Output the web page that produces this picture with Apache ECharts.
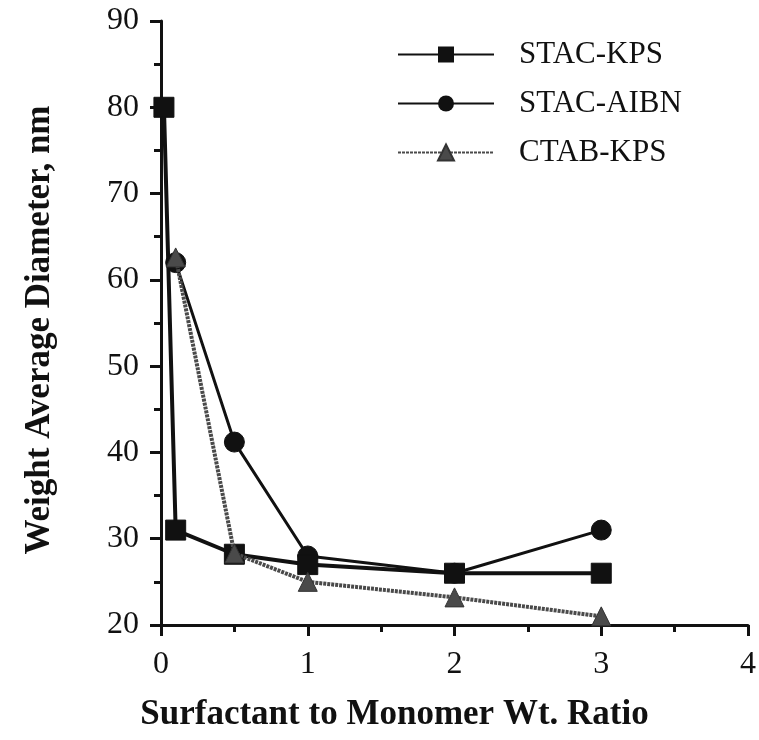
<!DOCTYPE html>
<html>
<head>
<meta charset="utf-8">
<script src="https://cdn.jsdelivr.net/npm/echarts@6/dist/echarts.min.js"></script>
<style>html,body{margin:0;padding:0;background:#fff}#c{width:759px;height:740px}</style>
</head>
<body>
<div id="c"></div>
<script>
// Data
var seriesNames = ['STAC-KPS', 'STAC-AIBN', 'CTAB-KPS'];
var stacKpsX = [0.02, 0.1, 0.5, 1, 2, 3];
var stacKpsY = [80, 31, 28.2, 27, 26, 26];
var stacAibnX = [0.1, 0.5, 1, 2, 3];
var stacAibnY = [62, 41.2, 28, 26, 31];
var ctabKpsX = [0.1, 0.5, 1, 2, 3];
var ctabKpsY = [62.6, 28.3, 25, 23.2, 21];
var xTitle = 'Surfactant to Monomer Wt. Ratio';
var yTitle = 'Weight Average Diameter, nm';

function pairs(xs, ys) { return xs.map(function (x, i) { return [x, ys[i]]; }); }

var serif = '"Liberation Serif", "Times New Roman", serif';
var chart = echarts.init(document.getElementById('c'), null, {renderer: 'canvas'});
chart.setOption({
  animation: false,
  backgroundColor: '#fff',
  grid: {left: 161, right: 11, top: 21, bottom: 115, containLabel: false, outerBoundsMode: 'none'},
  legend: {
    orient: 'vertical',
    left: 392, top: 34,
    itemWidth: 96, itemHeight: 20, itemGap: 18,
    textStyle: {fontFamily: serif, fontSize: 31, color: '#111', padding: [0, 0, 0, 20]},
    data: seriesNames
  },
  xAxis: {
    type: 'value', min: 0, max: 4, interval: 1,
    name: xTitle, nameLocation: 'middle', nameGap: 72,
    nameTextStyle: {fontFamily: serif, fontWeight: 'bold', fontSize: 35, color: '#111', padding: [0, 120, 0, 0]},
    axisLine: {show: true, onZero: false, lineStyle: {color: '#111', width: 3}},
    axisTick: {show: true, length: 11, lineStyle: {color: '#111', width: 3}},
    minorTick: {show: true, splitNumber: 2, length: 7, lineStyle: {color: '#111', width: 3}},
    splitLine: {show: false},
    axisLabel: {fontFamily: serif, fontSize: 32, color: '#111', margin: 24}
  },
  yAxis: {
    type: 'value', min: 20, max: 90, interval: 10,
    name: yTitle, nameLocation: 'middle', nameGap: 104, nameRotate: 90,
    nameTextStyle: {fontFamily: serif, fontWeight: 'bold', fontSize: 35, color: '#111', padding: [0, 14, 0, 0]},
    axisLine: {show: true, onZero: false, lineStyle: {color: '#111', width: 3}},
    axisTick: {show: true, length: 11, lineStyle: {color: '#111', width: 3}},
    minorTick: {show: true, splitNumber: 2, length: 7, lineStyle: {color: '#111', width: 3}},
    splitLine: {show: false},
    axisLabel: {fontFamily: serif, fontSize: 32, color: '#111', margin: 22}
  },
  series: [
    {
      name: seriesNames[0], type: 'line', data: pairs(stacKpsX, stacKpsY),
      symbol: 'rect', symbolSize: 20,
      lineStyle: {color: '#111', width: 4},
      itemStyle: {color: '#111', borderColor: '#111'}, z: 3
    },
    {
      name: seriesNames[1], type: 'line', data: pairs(stacAibnX, stacAibnY),
      symbol: 'circle', symbolSize: 20,
      lineStyle: {color: '#111', width: 3},
      itemStyle: {color: '#111', borderColor: '#111'}, z: 2
    },
    {
      name: seriesNames[2], type: 'line', data: pairs(ctabKpsX, ctabKpsY),
      symbol: 'triangle', symbolSize: 19,
      lineStyle: {color: '#4a4a4a', width: 4, type: [3, 1]},
      itemStyle: {color: '#4a4a4a', borderColor: '#333', borderWidth: 1}, z: 4
    }
  ]
});
</script>
</body>
</html>
